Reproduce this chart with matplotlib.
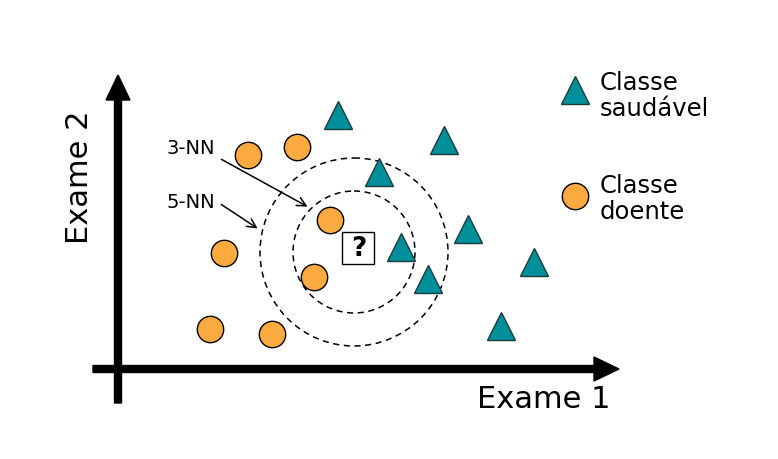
import matplotlib.pyplot as plt
from matplotlib.patches import Circle, Rectangle

# pixel-space layout of the k-NN sketch (y grows downward)
doente_x = [248, 297, 330, 224, 314, 210, 272]
doente_y = [155, 147, 220, 253, 277, 329, 334]
saudavel_x = [338, 444, 379, 468, 401, 428, 534, 501]
saudavel_y = [115, 140, 172, 229, 247, 279, 262, 326]
query = (358, 248)
center = (354, 252)
radii = [61, 94]

teal = "#00909b"
orange = "#fbaa3f"

fig = plt.figure(figsize=(7.78, 4.59), dpi=100)
ax = fig.add_axes([0, 0, 1, 1])
ax.set_xlim(0, 778)
ax.set_ylim(459, 0)
ax.axis("off")

# axes arrows
ax.arrow(118, 403, 0, -328, width=7, head_width=24, head_length=25,
         length_includes_head=True, color="black")
ax.arrow(93, 369, 526, 0, width=7, head_width=24, head_length=25,
         length_includes_head=True, color="black")
ax.text(80, 177, "Exame 2", rotation=90, ha="center", va="center", fontsize=22)
ax.text(544, 400, "Exame 1", ha="center", va="center", fontsize=22)

# neighbourhoods
for r in radii:
    ax.add_patch(Circle(center, r, fill=False, ls=(0, (4, 3)), lw=1.1, color="black"))
ax.add_patch(Rectangle((query[0] - 16, query[1] - 16), 32, 32, fill=False, lw=1, ec="black"))
ax.text(query[0] + 1, query[1] + 1, "?", ha="center", va="center", fontsize=19, fontweight="bold")

ax.plot(doente_x, doente_y, "o", ms=19, mfc=orange, mec="black", mew=1)
ax.plot(saudavel_x, saudavel_y, "^", ms=19.5, mfc=teal, mec="#1a3a3a", mew=1)

# labels with arrows
ax.text(167, 148, "3-NN", ha="left", va="center", fontsize=14)
ax.text(167, 203, "5-NN", ha="left", va="center", fontsize=14)
ax.annotate("", xy=(310, 208), xytext=(219, 158),
            arrowprops=dict(arrowstyle="->", lw=1.1, mutation_scale=16))
ax.annotate("", xy=(260, 230), xytext=(219, 203),
            arrowprops=dict(arrowstyle="->", lw=1.1, mutation_scale=16))

# legend
ax.plot([575], [90], "^", ms=19.5, mfc=teal, mec="#1a3a3a", mew=1)
ax.plot([575], [196], "o", ms=19, mfc=orange, mec="black", mew=1)
ax.text(600, 96, "Classe\nsaudável", ha="left", va="center", fontsize=17.5, linespacing=1.1)
ax.text(600, 199, "Classe\ndoente", ha="left", va="center", fontsize=17.5, linespacing=1.1)

fig.savefig("out.png", dpi=100)
